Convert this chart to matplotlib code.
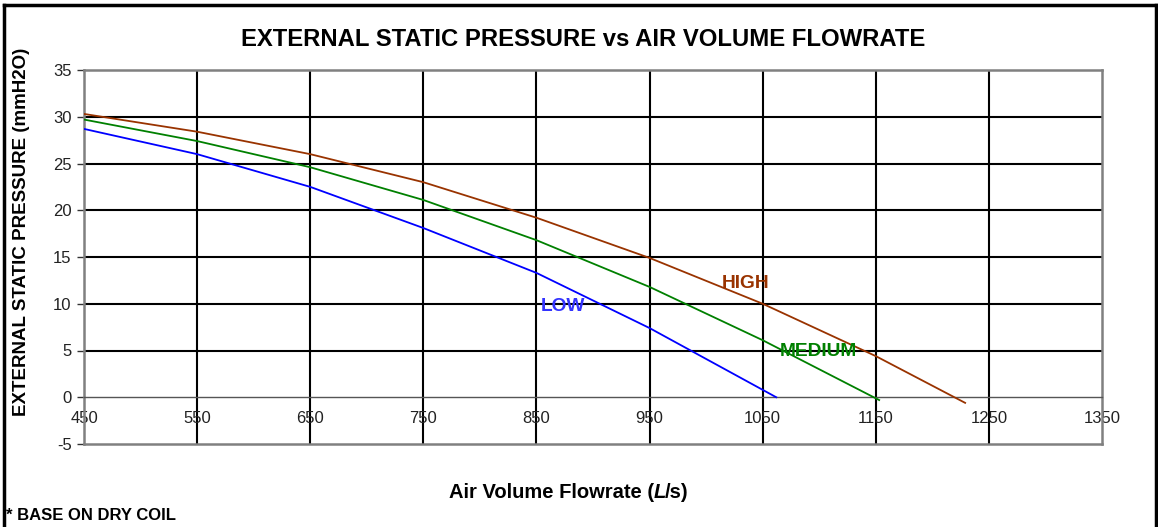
import numpy as np
import matplotlib
matplotlib.use('Agg')
import matplotlib.pyplot as plt
from matplotlib.lines import Line2D

# values
high_x = [450, 550, 650, 750, 850, 950, 1050, 1150, 1229]
high_y = [30.3, 28.4, 26.0, 23.0, 19.2, 14.9, 10.0, 4.4, -0.6]
med_x = [450, 550, 650, 750, 850, 950, 1050, 1153]
med_y = [29.7, 27.4, 24.6, 21.1, 16.8, 11.8, 6.1, -0.3]
low_x = [450, 550, 650, 750, 850, 950, 1062]
low_y = [28.7, 26.0, 22.5, 18.1, 13.3, 7.4, 0.0]

x_ticks = [450, 550, 650, 750, 850, 950, 1050, 1150, 1250, 1350]
y_ticks = [-5, 0, 5, 10, 15, 20, 25, 30, 35]

plt.rcParams['font.family'] = ['Liberation Sans', 'DejaVu Sans']
plt.rcParams['axes.unicode_minus'] = False

W, H = 1158, 527
fig = plt.figure(figsize=(W/100, H/100), dpi=100)
ax = fig.add_axes([84/W, 1-444/H, (1102-84)/W, (444-70)/H])

ax.set_xlim(450, 1350)
ax.set_ylim(-5, 35)

# grid lines
for xv in x_ticks[1:-1]:
    ax.axvline(xv, color='black', lw=1.5, zorder=1)
for yv in y_ticks[2:-1]:
    ax.axhline(yv, color='black', lw=1.5, zorder=1)

ax.plot(high_x, high_y, color='#993300', lw=1.3, zorder=3)
ax.plot(med_x, med_y, color='#008000', lw=1.3, zorder=3)
ax.plot(low_x, low_y, color='#0000ff', lw=1.3, zorder=3)

lab_fs = 13.8
ax.text(1035, 12.2, 'HIGH', color='#993300', fontsize=lab_fs, fontweight='bold', ha='center', va='center', zorder=4)
ax.text(1099, 4.9, 'MEDIUM', color='#008000', fontsize=lab_fs, fontweight='bold', ha='center', va='center', zorder=4)
ax.text(873, 9.7, 'LOW', color='#3333ff', fontsize=lab_fs, fontweight='bold', ha='center', va='center', zorder=4)

# frame of plot area
for s in ['top', 'left', 'right']:
    ax.spines[s].set_color('#808080')
    ax.spines[s].set_linewidth(1.8)
ax.spines['bottom'].set_position(('data', 0))
ax.spines['bottom'].set_color('#555555')
ax.spines['bottom'].set_linewidth(1.0)
ax.axhline(-5, color='#808080', lw=1.8, zorder=2, clip_on=False)

ax.set_xticks(x_ticks)
ax.set_yticks(y_ticks)
ax.tick_params(axis='x', length=0, pad=10, labelsize=12, labelcolor='#222222')
ax.tick_params(axis='y', length=5, width=1, color='#333333', pad=4, labelsize=12, labelcolor='#222222')

fig.text(583/W, 1-39/H, 'EXTERNAL STATIC PRESSURE vs AIR VOLUME FLOWRATE',
         fontsize=17.2, fontweight='bold', ha='center', va='center')
fig.text(22/W, 1-232/H, 'EXTERNAL STATIC PRESSURE (mmH2O)', rotation=90,
         fontsize=13.5, fontweight='bold', ha='center', va='center')

# x label with italic L, pieced together
renderer = fig.canvas.get_renderer()
parts = [('Air Volume Flowrate (', 'normal'), ('L', 'italic'), ('/s)', 'normal')]
x0 = 449
for s, st in parts:
    t = fig.text(x0/W, 1-493/H, s, fontsize=14.5, fontweight='bold', fontstyle=st,
                 ha='left', va='center')
    x0 += t.get_window_extent(renderer).width - (2 if st == 'italic' else 0)

fig.text(6/W, 1-516/H, '* BASE ON DRY COIL', fontsize=12, fontweight='bold',
         ha='left', va='center')

# outer border
fig.add_artist(Line2D([4/W, 4/W], [0, 1-5/H], color='black', lw=2.5))
fig.add_artist(Line2D([4/W, 1156/W], [1-5/H, 1-5/H], color='black', lw=2.5))
fig.add_artist(Line2D([1156/W, 1156/W], [0, 1-5/H], color='black', lw=2.5))

fig.savefig('out.png', dpi=100)
